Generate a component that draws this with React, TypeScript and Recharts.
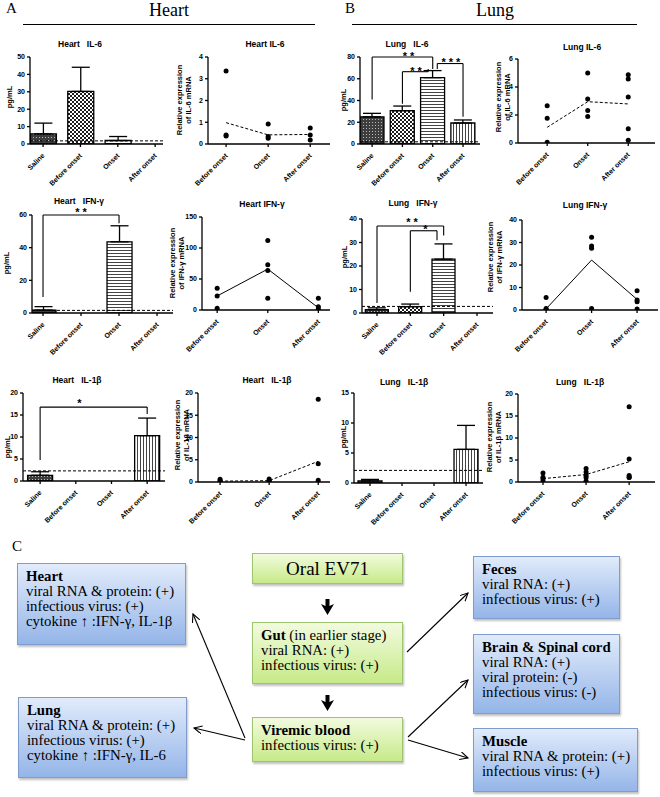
import React from 'react';
import {
  ComposedChart, Bar, ErrorBar, Cell, XAxis, YAxis, ReferenceLine, ReferenceDot,
  ScatterChart, Scatter,
} from 'recharts';

// ---------- categories ----------
const proteinGroups = ['Saline', 'Before onset', 'Onset', 'After onset'];
const mrnaGroups = ['Before onset', 'Onset', 'After onset'];

// ---------- protein (pg/mL): mean and upper SEM; null = not detected ----------
const heartIL6Mean = [5.8, 30.2, 2.0, null];
const heartIL6Err = [6.2, 13.9, 2.3, null];
const heartIFNMean = [1.8, null, 43.6, null];
const heartIFNErr = [2.1, null, 9.8, null];
const heartIL1bMean = [1.3, null, null, 10.3];
const heartIL1bErr = [0.8, null, null, 4.0];
const lungIL6Mean = [25.0, 30.6, 61.0, 19.3];
const lungIL6Err = [3.2, 4.3, 6.5, 2.8];
const lungIFNMean = [1.4, 2.7, 22.9, null];
const lungIFNErr = [0.8, 1.1, 6.5, null];
const lungIL1bMean = [0.35, null, null, 5.6];
const lungIL1bErr = [0.25, null, null, 4.0];

// detection limits (dashed lines)
const heartIL6Limit = 1.8;
const heartIFNLimit = 1.6;
const heartIL1bLimit = 2.3;
const lungIL6Limit = 2.0;
const lungIFNLimit = 2.8;
const lungIL1bLimit = 2.1;

// ---------- mRNA relative expression: individual points per group ----------
const heartIL6Pts = [[3.36, 0.41, 0.37], [0.92, 0.34, 0.26], [0.74, 0.41, 0.18]];
const heartIL6Line = [0.98, 0.42, 0.44];
const heartIFNPts = [[35, 22.6, 2.7], [112, 72.8, 63.6, 19], [19, 5.4, 1.6]];
const heartIFNLine = [22.6, 66, 3.5];
const heartIL1bPts = [[0.6, 0.3, 0.1], [0.7, 0.35, 0.15], [18.6, 4.1, 0.4]];
const heartIL1bLine = [0.2, 0.3, 4.65];
const lungIL6Pts = [[2.66, 1.76, 0.05], [5.0, 3.14, 2.33, 1.9], [4.88, 4.57, 3.29, 1.02, 0.19]];
const lungIL6Line = [1.12, 2.95, 2.79];
const lungIFNPts = [[5.6, 0.7, 0.3], [32.3, 28.4, 27.4, 0.7], [8.6, 4.4, 3.7, 0.4]];
const lungIFNLine = [0.5, 22.2, 4.7];
const lungIL1bPts = [[2.05, 1.1, 0.76, 0.2], [3.05, 2.3, 1.5, 1.0, 0.2], [17.1, 5.2, 1.5, 1.1, 1.0]];
const lungIL1bLine = [0.76, 1.7, 4.6];

const patterns = ['pSaline', 'pBefore', 'pOnset', 'pAfter'];
const SANS = '"Liberation Sans", Arial, sans-serif';
const SERIF = '"Liberation Serif", "Times New Roman", serif';

const buildBars = (mean: (number | null)[], err: (number | null)[]) =>
  mean
    .map((m, i) => ({ x: i + 1, v: m, err: [0, err[i] ?? 0] as [number, number] }))
    .filter((d) => d.v !== null);

const buildPts = (pts: number[][]) =>
  pts.flatMap((g, i) => g.map((y) => ({ x: i + 1, y })));
const buildLine = (vals: number[]) => vals.map((y, i) => ({ x: i + 1, y }));

const RotTick = (props: any) => {
  const { x, y, payload, names } = props;
  const label = names[Math.round(payload.value) - 1];
  const tx = x + 2;
  const ty = y + 7;
  return (
    <text x={tx} y={ty} transform={`rotate(-45 ${tx} ${ty})`} textAnchor="end"
      fontSize={7} fontWeight={700} fontFamily={SANS} fill="#000">{label}</text>
  );
};

const YW = 30;
const MT = 16;
const XH = 50;

type Frame = { ax: number; top: number; bottom: number; right: number };

const yTickStyle = { fontSize: 7, fontWeight: 700, fill: '#000', fontFamily: SANS };

type BarProps = Frame & {
  data: any[]; yMax: number; yTicks: number[]; xDomain: [number, number];
  barSize: number; limit: number;
  brackets?: number[][][]; stars?: { x: number; y: number; t: string }[];
};

const BarPanel = (p: BarProps) => {
  const W = YW + (p.right - p.ax) + 4;
  const H = MT + (p.bottom - p.top) + XH;
  return (
    <div style={{ position: 'absolute', left: p.ax - YW, top: p.top - MT }}>
      <ComposedChart width={W} height={H} data={p.data} margin={{ top: MT, right: 4, bottom: 0, left: 0 }}>
        <XAxis type="number" dataKey="x" domain={p.xDomain} ticks={[1, 2, 3, 4]} allowDataOverflow
          interval={0} height={XH} stroke="#000" strokeWidth={1.3} tickSize={3}
          tick={<RotTick names={proteinGroups} />} />
        <YAxis type="number" domain={[0, p.yMax]} ticks={p.yTicks} width={YW} allowDataOverflow interval={0}
          stroke="#000" strokeWidth={1.3} tickSize={3} tick={yTickStyle} />
        <ReferenceLine y={p.limit} stroke="#000" strokeWidth={1} strokeDasharray="3 2" />
        <Bar dataKey="v" barSize={p.barSize} stroke="#000" strokeWidth={1.3} isAnimationActive={false}>
          {p.data.map((d) => (
            <Cell key={d.x} fill={`url(#${patterns[d.x - 1]})`} />
          ))}
          <ErrorBar dataKey="err" width={9} stroke="#000" strokeWidth={1.3} direction="y" />
        </Bar>
        {(p.brackets || []).flatMap((poly, bi) =>
          poly.slice(1).map((pt, si) => (
            <ReferenceLine key={`b${bi}-${si}`} ifOverflow="visible" stroke="#000" strokeWidth={1.1}
              segment={[{ x: poly[si][0], y: poly[si][1] }, { x: pt[0], y: pt[1] }]} />
          ))
        )}
        {(p.stars || []).map((s, i) => (
          <ReferenceDot key={`s${i}`} x={s.x} y={s.y} r={1} fill="none" stroke="none" ifOverflow="visible"
            label={{ value: s.t, position: 'center', fontSize: 11, fontWeight: 700, fill: '#000', fontFamily: SANS, dy: 3 }} />
        ))}
      </ComposedChart>
    </div>
  );
};

type ScatProps = Frame & {
  pts: any[]; line: any[]; yMax: number; yTicks: number[]; xDomain: [number, number]; dashed: boolean;
};

const ScatPanel = (p: ScatProps) => {
  const W = YW + (p.right - p.ax) + 4;
  const H = MT + (p.bottom - p.top) + XH;
  return (
    <div style={{ position: 'absolute', left: p.ax - YW, top: p.top - MT }}>
      <ScatterChart width={W} height={H} margin={{ top: MT, right: 4, bottom: 0, left: 0 }}>
        <XAxis type="number" dataKey="x" domain={p.xDomain} ticks={[1, 2, 3]} allowDataOverflow
          interval={0} height={XH} stroke="#000" strokeWidth={1.3} tickSize={3}
          tick={<RotTick names={mrnaGroups} />} />
        <YAxis type="number" dataKey="y" domain={[0, p.yMax]} ticks={p.yTicks} width={YW} allowDataOverflow
          interval={0} stroke="#000" strokeWidth={1.3} tickSize={3} tick={yTickStyle} />
        <Scatter data={p.line} isAnimationActive={false} lineType="joint"
          line={{ stroke: '#000', strokeWidth: 1, strokeDasharray: p.dashed ? '3 2' : undefined }}
          shape={() => <g />} />
        <Scatter data={p.pts} isAnimationActive={false} fill="#000"
          shape={(s: any) => <circle cx={s.cx} cy={s.cy} r={2.5} fill="#000" />} />
      </ScatterChart>
    </div>
  );
};

const Title = ({ x, y, t }: { x: number; y: number; t: string }) => (
  <div style={{ position: 'absolute', left: x, top: y, transform: 'translate(-50%,-50%)', whiteSpace: 'pre',
    fontFamily: SANS, fontWeight: 700, fontSize: 8.5, color: '#000' }}>{t}</div>
);

const VLabel = ({ x, y, lines }: { x: number; y: number; lines: string[] }) => (
  <div style={{ position: 'absolute', left: x, top: y, transform: 'translate(-50%,-50%) rotate(-90deg)',
    whiteSpace: 'nowrap', fontFamily: SANS, fontWeight: 700, fontSize: 7.5, lineHeight: '9px', textAlign: 'center', color: '#000' }}>
    {lines.map((l, i) => <div key={i}>{l}</div>)}
  </div>
);

const blueBox = {
  background: 'linear-gradient(#e1ebfb, #94b5e8)', border: '1px solid #7f9ccd',
  boxShadow: '1px 2px 2px rgba(0,0,0,0.25)',
};
const greenBox = {
  background: 'linear-gradient(#f2fbdf, #c6ea88)', border: '1px solid #9fc46e',
  boxShadow: '1px 2px 2px rgba(0,0,0,0.25)',
};

const Box = ({ x, y, w, h, style, head, rest, lines }: any) => (
  <div style={{ position: 'absolute', left: x, top: y, width: w, height: h, boxSizing: 'border-box',
    padding: '5px 0 0 8px', fontFamily: SERIF, fontSize: 14.8, lineHeight: '15px', color: '#000', ...style }}>
    <div style={{ whiteSpace: 'nowrap' }}><b>{head}</b>{rest}</div>
    {lines.map((l: string, i: number) => <div key={i} style={{ whiteSpace: 'nowrap' }}>{l}</div>)}
  </div>
);

const App = () => {
  return (
    <div style={{ position: 'absolute', left: 0, top: 0, width: 660, height: 797, background: '#fff', overflow: 'hidden' }}>
      <svg width={0} height={0} style={{ position: 'absolute' }}>
        <defs>
          <pattern id="pSaline" width="3" height="3" patternUnits="userSpaceOnUse">
            <rect width="3" height="3" fill="#3d3d3d" />
            <rect width="1" height="1" fill="#b8b8b8" />
          </pattern>
          <pattern id="pBefore" width="4" height="4" patternUnits="userSpaceOnUse">
            <rect width="4" height="4" fill="#fff" />
            <rect width="2" height="2" fill="#1e1e1e" />
            <rect x="2" y="2" width="2" height="2" fill="#1e1e1e" />
          </pattern>
          <pattern id="pOnset" width="4" height="3" patternUnits="userSpaceOnUse">
            <rect width="4" height="3" fill="#fff" />
            <rect width="4" height="1" fill="#444" />
          </pattern>
          <pattern id="pAfter" width="3" height="4" patternUnits="userSpaceOnUse">
            <rect width="3" height="4" fill="#fff" />
            <rect width="1" height="4" fill="#444" />
          </pattern>
          <marker id="arr" markerWidth="10" markerHeight="10" refX="8" refY="4" orient="auto" markerUnits="userSpaceOnUse">
            <path d="M0,0 L8,4 L0,8" fill="none" stroke="#000" strokeWidth="1.1" />
          </marker>
        </defs>
      </svg>

      {/* headers */}
      <div style={{ position: 'absolute', left: 6, top: 0, fontFamily: SERIF, fontSize: 15 }}>A</div>
      <div style={{ position: 'absolute', left: 169, top: 10, transform: 'translate(-50%,-50%)', fontFamily: SERIF, fontSize: 18 }}>Heart</div>
      <div style={{ position: 'absolute', left: 23, top: 24, width: 292, height: 1, background: '#000' }} />
      <div style={{ position: 'absolute', left: 345, top: 0, fontFamily: SERIF, fontSize: 15 }}>B</div>
      <div style={{ position: 'absolute', left: 495, top: 10, transform: 'translate(-50%,-50%)', fontFamily: SERIF, fontSize: 18 }}>Lung</div>
      <div style={{ position: 'absolute', left: 352, top: 24, width: 285, height: 1, background: '#000' }} />

      {/* Row 1 */}
      <Title x={80} y={44} t={'Heart   IL-6'} />
      <VLabel x={9} y={97} lines={['pg/mL']} />
      <BarPanel ax={30} top={57} bottom={144} right={163} yMax={50} yTicks={[0, 10, 20, 30, 40, 50]}
        xDomain={[0.65, 4.21]} barSize={26} limit={heartIL6Limit} data={buildBars(heartIL6Mean, heartIL6Err)} />

      <Title x={265} y={44} t={'Heart IL-6'} />
      <VLabel x={184} y={100} lines={['Relative expression', 'of IL-6 mRNA']} />
      <ScatPanel ax={208} top={57} bottom={144} right={330} yMax={4} yTicks={[0, 1, 2, 3, 4]}
        xDomain={[0.57, 3.47]} dashed pts={buildPts(heartIL6Pts)} line={buildLine(heartIL6Line)} />

      <Title x={407} y={44} t={'Lung   IL-6'} />
      <VLabel x={343} y={100} lines={['pg/mL']} />
      <BarPanel ax={360} top={57} bottom={144} right={480} yMax={80} yTicks={[0, 20, 40, 60, 80]}
        xDomain={[0.6, 4.56]} barSize={24} limit={lungIL6Limit} data={buildBars(lungIL6Mean, lungIL6Err)}
        brackets={[
          [[1, 41], [1, 80], [3, 80], [3, 69]],
          [[2, 37], [2, 66.5], [2.85, 66.5], [2.85, 69]],
          [[3.15, 69], [3.15, 74], [4, 74], [4, 25]],
        ]}
        stars={[{ x: 2.2, y: 84, t: '* *' }, { x: 2.45, y: 70, t: '* *' }, { x: 3.6, y: 78, t: '* * *' }]} />

      <Title x={582} y={47} t={'Lung IL-6'} />
      <VLabel x={503} y={97} lines={['Relative expression', 'of IL-6 mRNA']} />
      <ScatPanel ax={518} top={59} bottom={143} right={655} yMax={6} yTicks={[0, 2, 4, 6]}
        xDomain={[0.28, 3.66]} dashed pts={buildPts(lungIL6Pts)} line={buildLine(lungIL6Line)} />

      {/* Row 2 */}
      <Title x={79} y={201} t={'Heart   IFN-γ'} />
      <VLabel x={6} y={263} lines={['pg/mL']} />
      <BarPanel ax={32} top={215} bottom={313} right={173} yMax={60} yTicks={[0, 20, 40, 60]}
        xDomain={[0.71, 4.42]} barSize={25} limit={heartIFNLimit} data={buildBars(heartIFNMean, heartIFNErr)}
        brackets={[[[1, 9.8], [1, 60], [3, 60], [3, 55]]]}
        stars={[{ x: 2, y: 63.5, t: '* *' }]} />

      <Title x={262} y={204} t={'Heart IFN-γ'} />
      <VLabel x={177} y={263} lines={['Relative expression', 'of IFN-γ mRNA']} />
      <ScatPanel ax={202} top={217} bottom={310} right={330} yMax={150} yTicks={[0, 50, 100, 150]}
        xDomain={[0.7, 3.23]} dashed={false} pts={buildPts(heartIFNPts)} line={buildLine(heartIFNLine)} />

      <Title x={413} y={203} t={'Lung   IFN-γ'} />
      <VLabel x={344} y={257} lines={['pg/mL']} />
      <BarPanel ax={362} top={219} bottom={313} right={493} yMax={40} yTicks={[0, 10, 20, 30, 40]}
        xDomain={[0.55, 4.48]} barSize={23} limit={lungIFNLimit} data={buildBars(lungIFNMean, lungIFNErr)}
        brackets={[
          [[1, 4.3], [1, 37], [3, 37], [3, 33]],
          [[2, 9], [2, 35], [2.8, 35], [2.8, 31]],
        ]}
        stars={[{ x: 2.05, y: 40, t: '* *' }, { x: 2.45, y: 36.8, t: '*' }]} />

      <Title x={585} y={205} t={'Lung IFN-γ'} />
      <VLabel x={495} y={257} lines={['Relative expression', 'of IFN-γ mRNA']} />
      <ScatPanel ax={522} top={220} bottom={310} right={658} yMax={40} yTicks={[0, 10, 20, 30, 40]}
        xDomain={[0.47, 3.46]} dashed={false} pts={buildPts(lungIFNPts)} line={buildLine(lungIFNLine)} />

      {/* Row 3 */}
      <Title x={77} y={380} t={'Heart   IL-1β'} />
      <VLabel x={7} y={447} lines={['pg/mL']} />
      <BarPanel ax={23} top={393} bottom={481} right={165} yMax={20} yTicks={[0, 5, 10, 15, 20]}
        xDomain={[0.52, 4.5]} barSize={25} limit={heartIL1bLimit} data={buildBars(heartIL1bMean, heartIL1bErr)}
        brackets={[[[1, 4.8], [1, 16.8], [4, 16.8], [4, 15.2]]]}
        stars={[{ x: 2.1, y: 18.3, t: '*' }]} />

      <Title x={267} y={380} t={'Heart   IL-1β'} />
      <VLabel x={182} y={435} lines={['Relative expression', 'of IL-1β mRNA']} />
      <ScatPanel ax={198} top={393} bottom={482} right={330} yMax={20} yTicks={[0, 5, 10, 15, 20]}
        xDomain={[0.55, 3.24]} dashed pts={buildPts(heartIL1bPts)} line={buildLine(heartIL1bLine)} />

      <Title x={404} y={382} t={'Lung   IL-1β'} />
      <VLabel x={343} y={437} lines={['pg/mL']} />
      <BarPanel ax={354} top={393} bottom={483} right={483} yMax={15} yTicks={[0, 5, 10, 15]}
        xDomain={[0.5, 4.53]} barSize={24} limit={lungIL1bLimit} data={buildBars(lungIL1bMean, lungIL1bErr)} />

      <Title x={580} y={382} t={'Lung   IL-1β'} />
      <VLabel x={494} y={437} lines={['Relative expression', 'of IL-1β mRNA']} />
      <ScatPanel ax={518} top={394} bottom={482} right={655} yMax={20} yTicks={[0, 5, 10, 15, 20]}
        xDomain={[0.42, 3.6]} dashed pts={buildPts(lungIL1bPts)} line={buildLine(lungIL1bLine)} />

      {/* Panel C diagram */}
      <div style={{ position: 'absolute', left: 12, top: 538, fontFamily: SERIF, fontSize: 15 }}>C</div>
      <Box x={17} y={563} w={169} h={82} style={blueBox} head="Heart" rest=""
        lines={['viral RNA & protein: (+)', 'infectious virus: (+)', 'cytokine ↑ :IFN-γ, IL-1β']} />
      <Box x={18} y={697} w={169} h={81} style={blueBox} head="Lung" rest=""
        lines={['viral RNA & protein: (+)', 'infectious virus: (+)', 'cytokine ↑ :IFN-γ, IL-6']} />
      <div style={{ position: 'absolute', left: 252, top: 553, width: 151, height: 31, boxSizing: 'border-box', ...greenBox,
        fontFamily: SERIF, fontSize: 19, textAlign: 'center', lineHeight: '30px' }}>Oral EV71</div>
      <Box x={252} y={622} w={151} h={62} style={greenBox} head="Gut" rest=" (in earlier stage)"
        lines={['viral RNA: (+)', 'infectious virus: (+)']} />
      <Box x={252} y={717} w={151} h={45} style={greenBox} head="Viremic blood" rest=""
        lines={['infectious virus: (+)']} />
      <Box x={473} y={556} w={147} h={63} style={blueBox} head="Feces" rest=""
        lines={['viral RNA: (+)', 'infectious virus: (+)']} />
      <Box x={473} y={634} w={147} h={80} style={blueBox} head="Brain & Spinal cord" rest=""
        lines={['viral RNA: (+)', 'viral protein: (-)', 'infectious virus: (-)']} />
      <Box x={473} y={728} w={165} h={64} style={blueBox} head="Muscle" rest=""
        lines={['viral RNA & protein: (+)', 'infectious virus: (+)']} />

      <svg width={660} height={797} style={{ position: 'absolute', left: 0, top: 0, pointerEvents: 'none' }}>
        <path d="M325.5 599 L329.5 599 L329.5 606 L334 604 L327.5 615 L321 604 L325.5 606 Z" fill="#000" />
        <path d="M325.5 695 L329.5 695 L329.5 702 L334 700 L327.5 711 L321 700 L325.5 702 Z" fill="#000" />
        <line x1={245} y1={738} x2={193} y2={614} stroke="#000" strokeWidth={1.1} markerEnd="url(#arr)" />
        <line x1={245} y1={740} x2={194} y2={728} stroke="#000" strokeWidth={1.1} markerEnd="url(#arr)" />
        <line x1={407} y1={652} x2={468} y2={593} stroke="#000" strokeWidth={1.1} markerEnd="url(#arr)" />
        <line x1={408} y1={737} x2={468} y2={680} stroke="#000" strokeWidth={1.1} markerEnd="url(#arr)" />
        <line x1={408} y1={740} x2={468} y2={758} stroke="#000" strokeWidth={1.1} markerEnd="url(#arr)" />
      </svg>
    </div>
  );
};

export default App;
